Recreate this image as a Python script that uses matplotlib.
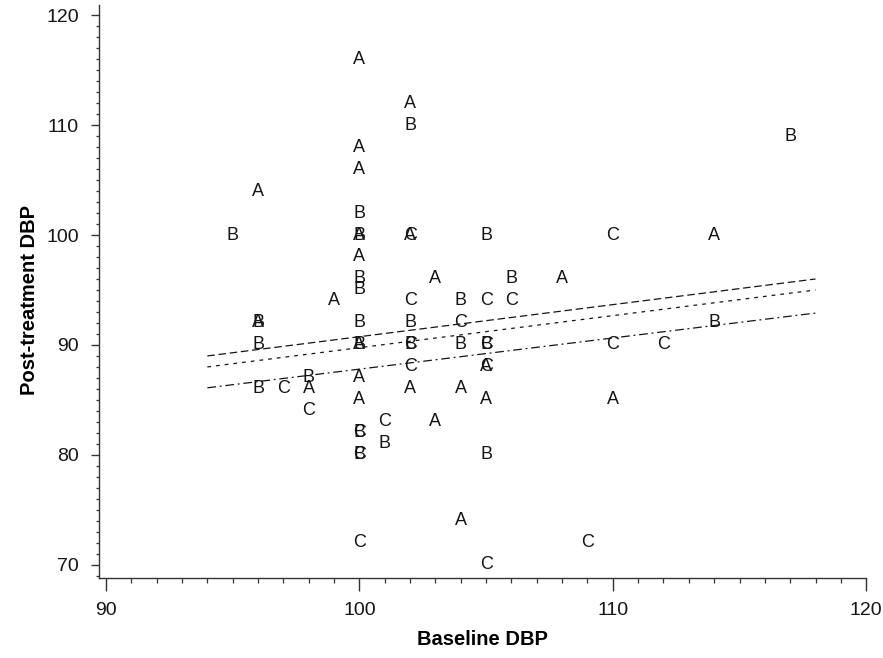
import matplotlib
matplotlib.use("Agg")
import matplotlib.pyplot as plt
from matplotlib.ticker import MultipleLocator

# Baseline / post-treatment DBP, one letter per treatment group
a_base = [100, 102, 100, 100, 96, 100, 102, 114, 100, 103, 108, 99, 96,
          100, 105, 100, 98, 102, 104, 100, 105, 110, 103, 104]
a_post = [116, 112, 108, 106, 104, 100, 100, 100, 98, 96, 96, 94, 92,
          90, 88, 87, 86, 86, 86, 85, 85, 85, 83, 74]

b_base = [117, 102, 100, 95, 100, 105, 100, 100, 106, 104, 96, 100, 102,
          114, 96, 100, 102, 104, 105, 98, 96, 100, 101, 100, 105]
b_post = [109, 110, 102, 100, 100, 100, 96, 95, 96, 94, 92, 92, 92,
          92, 90, 90, 90, 90, 90, 87, 86, 82, 81, 80, 80]

c_base = [102, 110, 102, 105, 106, 104, 102, 105, 110, 112, 102, 105, 97,
          98, 101, 100, 100, 100, 109, 105]
c_post = [100, 100, 94, 94, 94, 92, 90, 90, 90, 90, 88, 88, 86,
          84, 83, 82, 80, 72, 72, 70]

# fitted lines per group, read at the ends of the plotted range
fit_x = [94, 118]
fit_a = [89.0, 96.0]
fit_b = [88.0, 95.0]
fit_c = [86.1, 92.9]

INK = "#151515"

plt.rcParams.update({
    "font.family": ["Liberation Sans", "DejaVu Sans"],
    "text.color": INK,
    "axes.edgecolor": "#333333",
    "xtick.color": "#333333",
    "ytick.color": "#333333",
    "xtick.labelcolor": INK,
    "ytick.labelcolor": INK,
})

fig = plt.figure(figsize=(8.83, 6.58), dpi=100)
ax = fig.add_axes([0.112, 0.1216, 0.869, 0.8704])

groups = [("A", a_base, a_post), ("B", b_base, b_post), ("C", c_base, c_post)]
for letter, xs, ys in groups:
    for x, y in zip(xs, ys):
        ax.text(x, y, letter, fontsize=13, ha="center", va="center",
                color=INK, zorder=3)

ax.plot(fit_x, fit_a, color=INK, lw=0.9, ls=(0, (6, 3)))
ax.plot(fit_x, fit_b, color=INK, lw=0.9, ls=(0, (3, 4)))
ax.plot(fit_x, fit_c, color=INK, lw=0.9, ls=(0, (7, 3, 1.5, 3)))

ax.set_xlim(89.72, 120)
ax.set_ylim(68.8, 120.9)

ax.xaxis.set_major_locator(MultipleLocator(10))
ax.xaxis.set_minor_locator(MultipleLocator(1))
ax.yaxis.set_major_locator(MultipleLocator(10))
ax.yaxis.set_minor_locator(MultipleLocator(1))

ax.spines["top"].set_visible(False)
ax.spines["right"].set_visible(False)
ax.spines["left"].set_linewidth(1.0)
ax.spines["bottom"].set_linewidth(1.0)

ax.tick_params(axis="x", which="major", length=9.4, width=1.0, pad=8,
               labelsize=14)
ax.tick_params(axis="x", which="minor", length=3.6, width=0.9)
ax.tick_params(axis="y", which="major", length=5.8, width=1.0, pad=8.5,
               labelsize=14)
ax.tick_params(axis="y", which="minor", length=2.5, width=0.9)

ax.set_xlabel("Baseline DBP", fontsize=14.5, fontweight="bold", labelpad=8)
ax.set_ylabel("Post-treatment DBP", fontsize=14.5, fontweight="bold",
              labelpad=12)
ax.yaxis.set_label_coords(-0.078, 0.485)

fig.savefig("out.png", dpi=100, facecolor="white")
